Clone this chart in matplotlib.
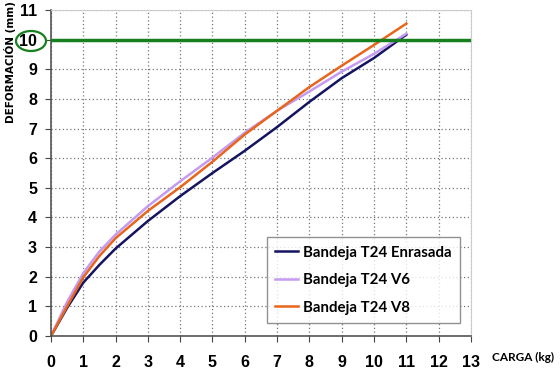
import matplotlib
matplotlib.use("Agg")
import matplotlib.pyplot as plt
from matplotlib.patches import Ellipse

# datos: carga (kg) vs deformacion (mm)
carga = [0, 0.5, 1, 1.5, 2, 3, 4, 5, 6, 7, 8, 9, 10, 11]
enrasada = [0, 0.95, 1.8, 2.4, 2.95, 3.88, 4.72, 5.5, 6.25, 7.05, 7.9, 8.7, 9.38, 10.17]
v6 = [0, 1.15, 2.12, 2.85, 3.42, 4.38, 5.22, 6.02, 6.86, 7.6, 8.25, 8.92, 9.52, 10.2]
v8 = [0, 1.0, 1.98, 2.7, 3.3, 4.22, 5.02, 5.88, 6.8, 7.6, 8.4, 9.12, 9.82, 10.54]

limite = 10
xticks = list(range(0, 14))
yticks = list(range(0, 12))

fig = plt.figure(figsize=(5.6, 3.69), dpi=100)
ax = fig.add_axes([0.091, 0.0894, 0.75, 0.8836])

ax.plot(carga, enrasada, color='#141460', lw=1.8, label='Bandeja T24 Enrasada')
ax.plot(carga, v6, color='#c49bf0', lw=1.8, label='Bandeja T24 V6')
ax.plot(carga, v8, color='#e8651c', lw=1.8, label='Bandeja T24 V8')
ax.axhline(limite, color='#17801e', lw=2.5, zorder=3)

ax.set_xlim(0, 13)
ax.set_ylim(0, 11)
ax.set_xticks(xticks)
ax.set_yticks(yticks)
ax.grid(True, linestyle=(0, (1, 2)), color='#777777', lw=0.9)
ax.set_axisbelow(True)

for lab in ax.get_xticklabels() + ax.get_yticklabels():
    lab.set_fontfamily('Liberation Sans')
    lab.set_fontweight('bold')
    lab.set_fontsize(11.5)
ax.tick_params(axis='x', direction='out', length=4, pad=10, color='#444444')
ax.tick_params(axis='y', direction='out', length=4, pad=6, color='#444444')

for s in ['left', 'bottom']:
    ax.spines[s].set_color('#555555')
    ax.spines[s].set_linewidth(1.2)
for s in ['top', 'right']:
    ax.spines[s].set_color('#cccccc')

# circulo alrededor del 10
ell = Ellipse((31 / 560, 1 - 41 / 369), 30 / 560, 20 / 369, transform=fig.transFigure,
              fill=False, edgecolor='#17801e', lw=1.6)
fig.patches.append(ell)

fig.text(10 / 560, 1 - 62 / 369, 'DEFORMACIÓN (mm)', rotation=90, ha='center', va='center',
         fontsize=7.5, fontweight='bold', family='DejaVu Sans')
fig.text(523 / 560, 1 - 357 / 369, 'CARGA (kg)', ha='center', va='center',
         fontsize=8.5, fontweight='bold', family='Lato')

leg = ax.legend(loc='lower right', bbox_to_anchor=(0.974, 0.04), borderaxespad=0,
                frameon=True, fancybox=False,
                handlelength=1.5, handletextpad=0.35, labelspacing=0.9, borderpad=0.55,
                prop={'family': 'Lato', 'weight': 'bold', 'size': 10.8})
leg.get_frame().set_edgecolor('#777777')
leg.get_frame().set_linewidth(1.0)

fig.savefig('out.png', dpi=100)
